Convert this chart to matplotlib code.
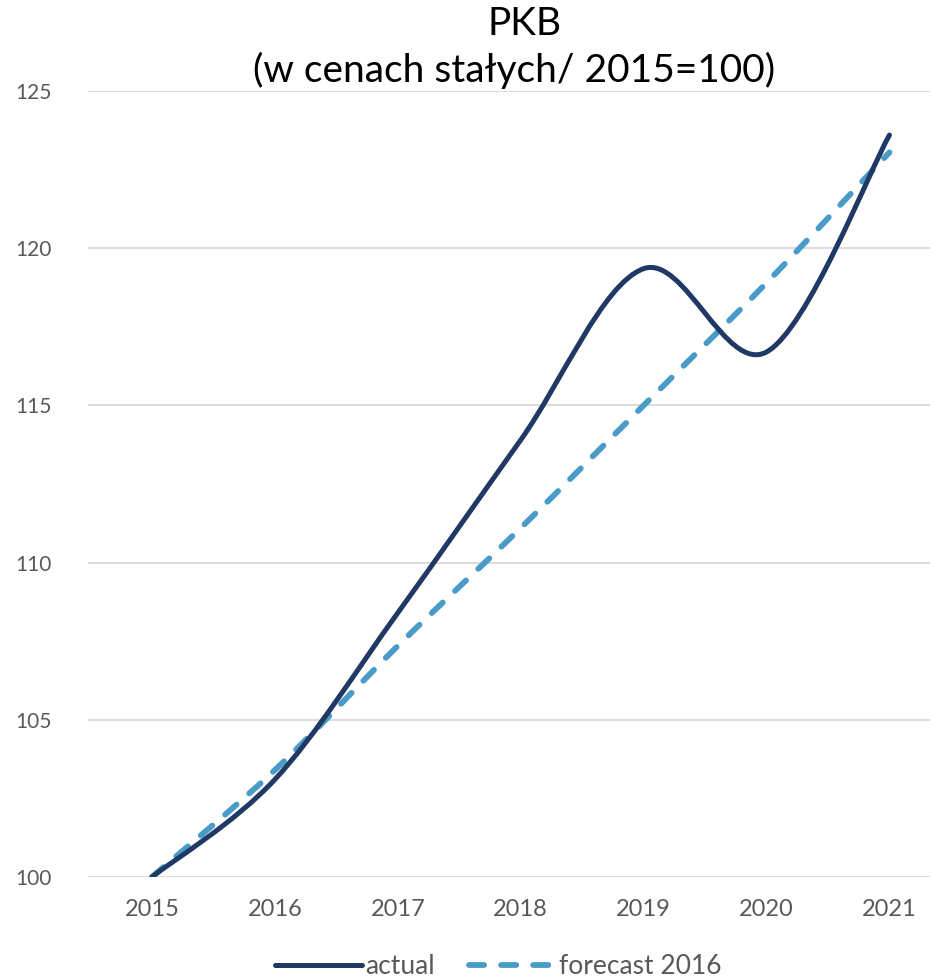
import matplotlib
matplotlib.use("Agg")
import matplotlib.pyplot as plt
from matplotlib.path import Path
from matplotlib.patches import PathPatch
from matplotlib.lines import Line2D
import numpy as np

years = [2015, 2016, 2017, 2018, 2019, 2020, 2021]
actual = [100.0, 103.1, 108.4, 113.9, 119.35, 116.7, 123.6]
forecast = [100.0, 103.4, 107.35, 111.1, 115.0, 118.9, 123.05]
yticks = [100, 105, 110, 115, 120, 125]
title_line1 = "PKB"
title_line2 = "(w cenach stałych/ 2015=100)"
series_labels = ["actual", "forecast 2016"]

C_ACTUAL = "#1F3864"
C_FORE = "#4A9BC7"
FONT = ["Lato", "DejaVu Sans"]


def smooth_path(xs, ys):
    pts = np.column_stack([xs, ys]).astype(float)
    n = len(pts)
    verts = [pts[0]]
    codes = [Path.MOVETO]
    for i in range(n - 1):
        p0 = pts[i - 1] if i > 0 else pts[i]
        p1 = pts[i]
        p2 = pts[i + 1]
        p3 = pts[i + 2] if i + 2 < n else pts[i + 1]
        c1 = p1 + (p2 - p0) / 6.0
        c2 = p2 - (p3 - p1) / 6.0
        verts += [c1, c2, p2]
        codes += [Path.CURVE4] * 3
    return Path(verts, codes)


fig = plt.figure(figsize=(9.33, 9.8), dpi=100)
ax = fig.add_axes([0.0943, 0.1051, 0.9025, 0.802])

for y in yticks:
    ax.axhline(y, color="#D9D9D9", lw=1.3, zorder=0)

p_fore = PathPatch(smooth_path(years, forecast), fill=False, edgecolor=C_FORE,
                   lw=4.2, linestyle=(0, (2.6, 2.9)), capstyle="round", zorder=3)
ax.add_patch(p_fore)
p_act = PathPatch(smooth_path(years, actual), fill=False, edgecolor=C_ACTUAL,
                  lw=3.6, capstyle="round", joinstyle="round", zorder=4)
ax.add_patch(p_act)

ax.set_xlim(2014.48, 2021.33)
ax.set_ylim(100, 125)
ax.set_xticks(years)
ax.set_xticklabels([str(y) for y in years], fontsize=17, color="#595959", family=FONT)
ax.set_yticks(yticks)
ax.set_yticklabels([str(y) for y in yticks], fontsize=15, color="#595959", family=FONT)
ax.tick_params(length=0)
ax.tick_params(axis="x", pad=16)
ax.tick_params(axis="y", pad=26)
for s in ax.spines.values():
    s.set_visible(False)

fig.text(525 / 933, 1 - 24 / 980, title_line1, ha="center", va="center",
         fontsize=28, color="#000000", family=FONT)
fig.text(514 / 933, 1 - 70 / 980, title_line2, ha="center", va="center",
         fontsize=28, color="#000000", family=FONT)

handles = [
    Line2D([0], [0], color=C_ACTUAL, lw=3.6, solid_capstyle="round"),
    Line2D([0], [0], color=C_FORE, lw=4.2, linestyle=(0, (2.6, 2.9)), dash_capstyle="round"),
]
fig.legend(handles, series_labels, loc="center", bbox_to_anchor=(0.534, 0.014),
           ncol=2, frameon=False, handlelength=3.3, handletextpad=0.1,
           columnspacing=1.3, prop={"family": FONT, "size": 19},
           labelcolor="#595959")

fig.savefig("out.png", dpi=100)
